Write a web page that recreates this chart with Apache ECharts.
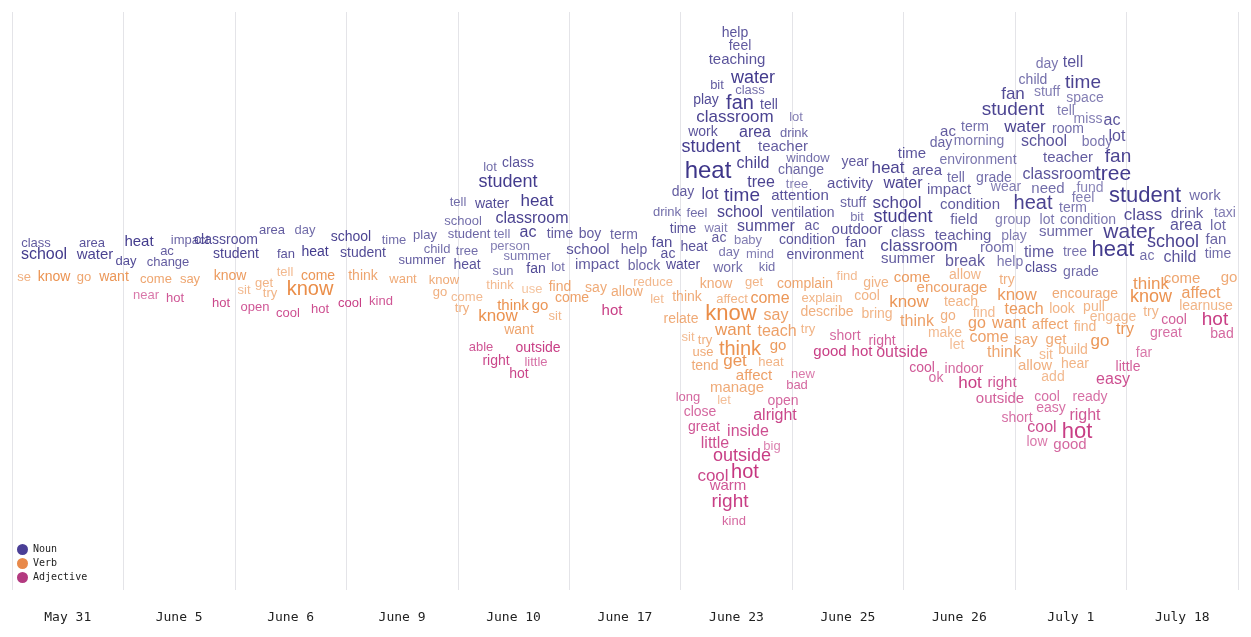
<!DOCTYPE html>
<html>
<head>
<meta charset="utf-8">
<script src="https://cdn.jsdelivr.net/npm/echarts@6/dist/echarts.min.js"></script>
<style>html,body{margin:0;padding:0;background:#fff}#chart{width:1251px;height:637px}</style>
</head>
<body>
<div id="chart"></div>
<script>
// date columns
var dates = ['May 31','June 5','June 6','June 9','June 10','June 17','June 23','June 25','June 26','July 1','July 18'];

// [word, x, y, size, alpha]  (x, y in chart units: left->right, top->bottom)
var nouns = [
 ['class',36,243,13,.7],['school',44,255,16,.9],['area',92,243,13,.75],['water',95,255,15,.85],
 ['heat',139,242,15,.9],['day',126,261,13,.8],['ac',167,251,13,.7],['change',168,262,13,.7],['impact',190,240,13,.65],
 ['classroom',226,240,14,.8],['student',236,254,14,.85],['area',272,230,13,.7],['day',305,230,13,.6],['fan',286,254,13,.75],['heat',315,252,14,.9],
 ['school',351,237,14,.85],['time',394,240,13,.6],['student',363,253,14,.8],['play',425,235,13,.65],['child',437,249,13,.6],['summer',422,260,13,.7],
 ['lot',490,167,13,.6],['class',518,163,14,.75],['student',508,182,18,.9],['tell',458,202,13,.6],['water',492,204,14,.8],['heat',537,201,17,.9],
 ['school',463,221,13,.6],['classroom',532,219,16,.85],['student',469,234,13,.65],['tell',502,234,13,.55],['ac',528,233,16,.85],['time',560,234,14,.7],
 ['person',510,246,13,.5],['tree',467,251,13,.6],['summer',527,256,13,.55],['heat',467,265,14,.75],['sun',503,271,13,.55],['fan',536,269,14,.8],['lot',558,267,13,.6],
 ['boy',590,234,14,.7],['term',624,235,14,.65],['school',588,250,15,.75],['help',634,250,14,.7],['impact',597,265,15,.7],['block',644,266,14,.65],
 ['help',735,33,14,.75],['feel',740,46,14,.7],['teaching',737,60,15,.75],['bit',717,85,13,.7],['water',753,78,18,.9],['class',750,90,13,.6],
 ['play',706,100,14,.8],['fan',740,103,20,.9],['tell',769,105,14,.75],['classroom',735,117,17,.85],['lot',796,117,13,.5],['work',703,132,14,.75],
 ['area',755,133,16,.85],['drink',794,133,13,.65],['student',711,147,18,.9],['teacher',783,147,15,.7],['window',808,158,13,.6],['heat',708,171,24,1],
 ['child',753,164,16,.85],['change',801,170,14,.65],['tree',761,183,16,.85],['tree',797,184,13,.5],['day',683,192,14,.7],['lot',710,195,16,.85],
 ['time',742,196,19,.9],['attention',800,196,15,.75],['drink',667,212,13,.6],['feel',697,213,13,.6],['school',740,213,16,.85],['ventilation',803,213,14,.7],
 ['time',683,229,14,.75],['wait',716,228,13,.5],['summer',766,227,16,.8],['fan',662,243,15,.8],['ac',719,238,14,.7],['baby',748,240,13,.5],
 ['heat',694,247,14,.75],['condition',807,240,14,.75],['ac',668,254,14,.75],['day',729,252,13,.55],['mind',760,254,13,.5],['environment',825,255,14,.75],
 ['water',683,265,14,.8],['work',728,268,14,.6],['kid',767,267,13,.6],
 ['year',855,162,14,.7],['time',912,154,15,.75],['heat',888,168,17,.85],['area',927,171,15,.75],['activity',850,184,15,.75],['water',903,184,16,.85],
 ['stuff',853,203,14,.65],['school',897,203,17,.85],['bit',857,217,13,.55],['student',903,217,18,.9],['ac',812,226,14,.7],['outdoor',857,230,15,.75],
 ['class',908,233,15,.7],['fan',856,243,15,.75],['classroom',919,246,17,.8],['summer',908,259,15,.7],
 ['day',1047,64,14,.55],['tell',1073,63,16,.75],['child',1033,80,14,.6],['time',1083,83,19,.85],['fan',1013,94,17,.8],['stuff',1047,92,14,.5],
 ['space',1085,98,14,.5],['student',1013,110,19,.85],['tell',1066,111,14,.5],['miss',1088,119,14,.5],['ac',1112,121,16,.75],['ac',948,132,15,.7],
 ['term',975,127,14,.6],['water',1025,127,17,.85],['room',1068,129,14,.6],['lot',1117,137,16,.75],['day',941,143,14,.65],['morning',979,141,14,.55],
 ['school',1044,142,16,.75],['body',1097,142,14,.55],['fan',1118,157,19,.85],['teacher',1068,158,15,.7],['environment',978,160,14,.55],
 ['tell',956,178,14,.6],['grade',994,178,14,.6],['classroom',1059,175,16,.75],['tree',1113,174,21,.9],['impact',949,190,15,.7],['wear',1006,187,14,.5],
 ['need',1048,189,15,.6],['fund',1090,188,14,.45],['heat',1033,203,20,.85],['feel',1083,198,14,.5],['term',1073,208,14,.55],['student',1145,196,22,.9],
 ['work',1205,196,15,.6],['condition',970,205,15,.7],['field',964,220,15,.65],['group',1013,220,14,.5],['lot',1047,220,14,.55],['condition',1088,220,14,.55],
 ['class',1143,215,17,.8],['drink',1187,214,15,.7],['taxi',1225,213,14,.5],['teaching',963,236,15,.7],['play',1014,236,14,.5],['summer',1066,232,15,.65],
 ['water',1129,232,21,.85],['area',1186,226,16,.75],['lot',1218,226,15,.6],['room',997,248,15,.6],['help',1010,262,14,.55],['break',965,262,16,.7],
 ['time',1039,253,16,.7],['tree',1075,252,14,.55],['heat',1113,250,22,.9],['school',1173,242,18,.85],['fan',1216,240,15,.65],['ac',1147,256,14,.6],
 ['child',1180,258,16,.75],['time',1218,254,14,.6],['class',1041,268,14,.8],['grade',1081,272,14,.6]
];
var verbs = [
 ['se',24,277,13,.5],['know',54,277,14,.8],['go',84,277,13,.6],['want',114,277,14,.75],
 ['come',156,279,13,.6],['say',190,279,13,.6],
 ['know',230,276,14,.7],['tell',285,272,13,.4],['get',264,283,13,.45],['sit',244,290,13,.4],['try',270,293,13,.45],['know',310,289,20,.85],['come',318,276,14,.75],
 ['think',363,276,14,.6],['want',403,279,13,.55],['know',444,280,13,.55],['go',440,292,13,.5],
 ['think',500,285,13,.4],['use',532,289,13,.3],['find',560,287,14,.6],['come',467,297,13,.4],['try',462,308,13,.5],['think',513,306,15,.8],
 ['go',540,306,15,.75],['know',498,316,17,.8],['sit',555,316,13,.45],['want',519,330,14,.6],
 ['come',572,298,14,.65],['say',596,288,14,.55],['allow',627,292,14,.55],['reduce',653,282,13,.4],['let',657,299,13,.4],
 ['know',716,284,14,.55],['get',754,282,13,.45],['complain',805,284,14,.6],['think',687,297,14,.55],['affect',732,299,13,.45],['come',770,299,16,.75],
 ['explain',822,298,13,.45],['relate',681,319,14,.55],['know',731,314,22,.85],['say',776,316,16,.65],['describe',827,312,14,.5],['sit',688,337,13,.4],
 ['try',705,340,13,.5],['want',733,330,17,.75],['teach',777,332,16,.65],['try',808,329,13,.45],['use',703,352,13,.55],['think',740,349,20,.8],
 ['go',778,346,15,.7],['tend',705,366,14,.55],['get',735,361,17,.75],['heat',771,362,13,.45],['affect',754,376,15,.65],['manage',737,388,15,.55],['let',724,400,13,.35],
 ['find',847,276,13,.4],['give',876,283,14,.45],['come',912,278,15,.7],['cool',867,296,14,.45],['know',909,302,17,.75],['bring',877,314,14,.45],['think',917,322,16,.65],
 ['allow',965,275,14,.45],['try',1007,280,14,.5],['encourage',952,288,15,.65],['know',1017,295,17,.7],['teach',961,302,14,.45],['encourage',1085,294,14,.55],
 ['go',948,316,14,.5],['find',984,313,14,.4],['teach',1024,310,16,.7],['look',1062,309,14,.45],['pull',1094,307,14,.45],['make',945,333,14,.4],
 ['go',977,324,16,.7],['want',1009,324,16,.7],['affect',1050,325,15,.6],['find',1085,327,14,.45],['engage',1113,317,14,.4],['let',957,345,14,.35],
 ['come',989,338,16,.65],['say',1026,340,15,.6],['get',1056,340,15,.55],['go',1100,341,17,.75],['try',1125,330,16,.75],['think',1004,353,16,.6],
 ['sit',1046,355,14,.4],['build',1073,350,14,.45],['allow',1035,366,15,.5],['hear',1075,364,14,.45],['add',1053,377,14,.4],
 ['think',1151,284,17,.75],['come',1182,279,15,.6],['go',1229,278,15,.55],['know',1151,297,18,.8],['affect',1201,294,16,.7],['learnuse',1206,306,14,.45],['try',1151,312,14,.45]
];
var adjectives = [
 ['near',146,295,13,.5],['hot',175,298,13,.7],
 ['hot',221,303,13,.8],['open',255,307,13,.7],['cool',288,313,13,.75],
 ['hot',320,309,13,.75],['cool',350,303,13,.85],['kind',381,301,13,.7],
 ['able',481,347,13,.7],['outside',538,348,14,.85],['right',496,361,14,.8],['little',536,362,13,.55],['hot',519,374,14,.8],
 ['hot',612,311,15,.85],
 ['new',803,374,13,.5],['bad',797,385,13,.6],['long',688,397,13,.6],['open',783,401,14,.6],['close',700,412,14,.6],['alright',775,416,16,.8],
 ['great',704,427,14,.7],['inside',748,432,16,.75],['little',715,444,16,.75],['big',772,446,13,.45],['outside',742,456,18,.85],['cool',713,476,17,.8],
 ['hot',745,472,20,.9],['warm',728,486,15,.7],['right',730,502,19,.85],['kind',734,521,13,.6],
 ['short',845,336,14,.6],['right',882,341,14,.65],['good',830,352,15,.85],['hot',862,352,15,.85],['outside',902,353,16,.8],
 ['cool',922,368,14,.7],['indoor',964,369,14,.6],['ok',936,378,14,.6],['hot',970,383,17,.85],['right',1002,383,15,.7],
 ['cool',1174,320,14,.65],['hot',1215,320,19,.85],['great',1166,333,14,.55],['bad',1222,334,14,.6],['far',1144,353,14,.5],['little',1128,367,14,.65],
 ['easy',1113,380,16,.75],['outside',1000,399,15,.65],['cool',1047,397,14,.55],['ready',1090,397,14,.55],['easy',1051,408,14,.55],['short',1017,418,14,.55],
 ['right',1085,416,16,.7],['cool',1042,428,16,.75],['hot',1077,432,22,.85],['low',1037,442,14,.5],['good',1070,445,15,.6]
];

var colors = {Noun:'#3d3589', Verb:'#e8843a', Adjective:'#c42f7c'};

function makeSeries(name, words){
    return {
        name: name,
        type: 'scatter',
        xAxisIndex: 0,
        symbolSize: 10,
        itemStyle: {color: colors[name], opacity: 0},
        silent: true,
        data: words.map(function(w){
            return {
                value: [w[1]-12, w[2]],
                label: {
                    show: true, position: 'inside', formatter: w[0],
                    fontSize: w[3], opacity: Math.min(1, w[4]*0.8+0.25), color: colors[name],
                    fontFamily: 'Liberation Sans, Arial, sans-serif'
                }
            };
        })
    };
}

var chart = echarts.init(document.getElementById('chart'));
chart.setOption({
    animation: false,
    grid: {left: 12, right: 13, top: 12, bottom: 47},
    legend: {
        orient: 'vertical', left: 12, top: 539,
        itemWidth: 11, itemHeight: 11, itemGap: 3,
        icon: 'circle',
        textStyle: {fontFamily: 'DejaVu Sans Mono, monospace', fontSize: 10, color: '#222'},
        data: [
            {name:'Noun', itemStyle:{color:'#4a3f96', opacity:1}},
            {name:'Verb', itemStyle:{color:'#e8894a', opacity:1}},
            {name:'Adjective', itemStyle:{color:'#b33a80', opacity:1}}
        ]
    },
    xAxis: [{
        type: 'value', min: 0, max: 1226, interval: 1226/11,
        axisLine: {show: false}, axisTick: {show: false}, axisLabel: {show: false},
        splitLine: {show: true, lineStyle: {color: '#e4e4e8', width: 1}}
    }, {
        type: 'category', data: dates, boundaryGap: true, position: 'bottom',
        axisLine: {show: false}, axisTick: {show: false},
        axisLabel: {margin: 21, fontFamily: 'DejaVu Sans Mono, monospace', fontSize: 13, color: '#222'}
    }],
    yAxis: {type: 'value', inverse: true, min: 12, max: 590, show: false},
    series: [makeSeries('Noun', nouns), makeSeries('Verb', verbs), makeSeries('Adjective', adjectives)]
});
</script>
</body>
</html>
